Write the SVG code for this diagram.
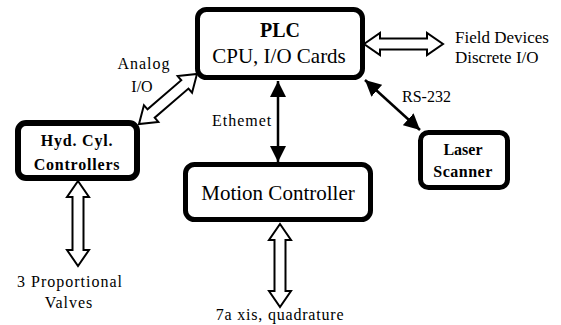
<svg xmlns="http://www.w3.org/2000/svg" width="561" height="325" viewBox="0 0 561 325">
<style>
.box{fill:#fff;stroke:#000;stroke-width:5}
.t{font-family:"Liberation Serif","Times New Roman",serif;fill:#000}
.b{font-weight:bold}
.hol{fill:#fff;stroke:#000;stroke-width:2;stroke-linejoin:miter}
.sol{stroke:#000;stroke-width:2.5;fill:none}
</style>
<defs>
<marker id="ah" markerUnits="userSpaceOnUse" markerWidth="16" markerHeight="16" refX="15" refY="7.5" orient="auto-start-reverse" viewBox="0 0 15 15">
<path d="M0,0 L15,7.5 L0,15 z" fill="#000"/>
</marker>
</defs>
<rect width="561" height="325" fill="#fff"/>
<g id="connectors">
<polygon class="hol" transform="translate(364,44)" points="0,0 16,-11 16,-5.5 63,-5.5 63,-11 79,0 63,11 63,5.5 16,5.5 16,11"/>
<polygon class="hol" transform="translate(139,124) rotate(-40.8)" points="0,0 16,-11 16,-5.5 60.6,-5.5 60.6,-11 76.6,0 60.6,11 60.6,5.5 16,5.5 16,11"/>
<polygon class="hol" transform="translate(78,181) rotate(90)" points="0,0 16,-11 16,-5.5 69,-5.5 69,-11 85,0 69,11 69,5.5 16,5.5 16,11"/>
<polygon class="hol" transform="translate(280,224) rotate(90)" points="0,0 16,-11 16,-5.5 67,-5.5 67,-11 83,0 67,11 67,5.5 16,5.5 16,11"/>
<line class="sol" x1="278" y1="81" x2="278" y2="162" marker-start="url(#ah)" marker-end="url(#ah)"/>
<line class="sol" x1="365" y1="80" x2="420" y2="130" marker-start="url(#ah)" marker-end="url(#ah)"/>
<text class="t" x="212" y="126" font-size="16" letter-spacing="1">Ethemet</text>
<text class="t" x="144" y="69" font-size="16" letter-spacing="1" text-anchor="middle">Analog</text>
<text class="t" x="142" y="92" font-size="16" text-anchor="middle">I/O</text>
<text class="t" x="402" y="102" font-size="16">RS-232</text>
<text class="t" x="455" y="43" font-size="17">Field Devices</text>
<text class="t" x="455" y="63" font-size="17">Discrete I/O</text>
<text class="t" x="70" y="287" font-size="16" letter-spacing="1" text-anchor="middle">3 Proportional</text>
<text class="t" x="69" y="308" font-size="16" letter-spacing="1" text-anchor="middle">Valves</text>
<text class="t" x="280" y="320" font-size="16" letter-spacing="0.8" text-anchor="middle">7a xis, quadrature</text>
</g>
<g id="plc">
<rect class="box" x="197.5" y="9.5" width="165" height="68" rx="9"/>
<text class="t b" x="280" y="37" font-size="20" text-anchor="middle">PLC</text>
<text class="t" x="279" y="63" font-size="21" text-anchor="middle">CPU, I/O Cards</text>
</g>
<g id="hyd">
<rect class="box" x="18" y="123" width="119" height="55" rx="8" style="stroke-width:6"/>
<text class="t b" x="77" y="146" font-size="16" letter-spacing="0.8" text-anchor="middle">Hyd. Cyl.</text>
<text class="t b" x="77" y="170" font-size="16" letter-spacing="0.8" text-anchor="middle">Controllers</text>
</g>
<g id="laser">
<rect class="box" x="420.5" y="132.5" width="87" height="55" rx="8"/>
<text class="t b" x="463" y="155" font-size="16" text-anchor="middle">Laser</text>
<text class="t b" x="463" y="177" font-size="16" letter-spacing="0.5" text-anchor="middle">Scanner</text>
</g>
<g id="motion">
<rect class="box" x="185.5" y="164.5" width="185" height="55" rx="9"/>
<text class="t" x="278" y="200" font-size="21" text-anchor="middle">Motion Controller</text>
</g>
</svg>
